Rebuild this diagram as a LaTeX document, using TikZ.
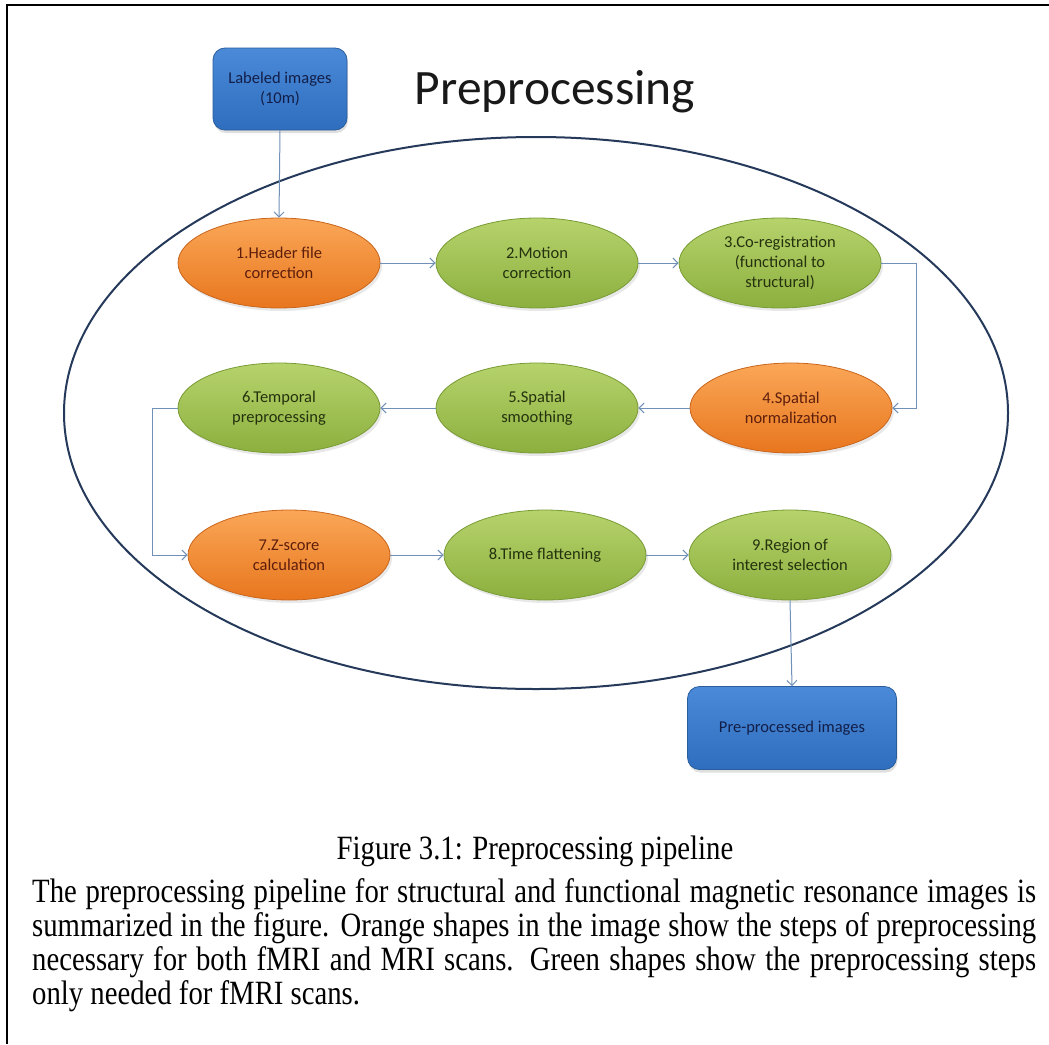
\documentclass[tikz,border=0pt]{standalone}
\usepackage{fontspec}
\setmainfont{Liberation Serif}
\newfontfamily\calfont{Carlito}
\newfontfamily\capfont[FakeStretch=0.845]{Liberation Serif}
\usetikzlibrary{arrows.meta,shapes.geometric,shadows}
\definecolor{orT}{HTML}{FAA757}
\definecolor{orB}{HTML}{E8761E}
\definecolor{orD}{HTML}{C9651C}
\definecolor{orTxt}{HTML}{5E1E0C}
\definecolor{grT}{HTML}{B6D36C}
\definecolor{grB}{HTML}{8CAF3E}
\definecolor{grD}{HTML}{789B35}
\definecolor{grTxt}{HTML}{24320E}
\definecolor{blT}{HTML}{4A8AD8}
\definecolor{blB}{HTML}{2F6DBE}
\definecolor{blD}{HTML}{2A5D9C}
\definecolor{blTxt}{HTML}{121E48}
\definecolor{conn}{HTML}{7090B8}
\definecolor{ring}{HTML}{25395A}
\tikzset{
  stepnode/.style={ellipse, minimum width=202pt, minimum height=90pt, inner sep=0pt,
    align=center, font=\calfont\fontsize{16.5}{20}\selectfont, line width=0.8pt,
    drop shadow={opacity=0.18, shadow xshift=2pt, shadow yshift=-3pt}},
  orangestep/.style={stepnode, top color=orT, bottom color=orB, draw=orD, text=orTxt},
  greenstep/.style={stepnode, top color=grT, bottom color=grB, draw=grD, text=grTxt},
  bluebox/.style={rectangle, rounded corners=12pt, top color=blT, bottom color=blB,
    draw=blD, line width=0.8pt, text=blTxt, align=center, inner sep=0pt,
    font=\calfont\fontsize{16.5}{20}\selectfont,
    drop shadow={opacity=0.25, shadow xshift=1pt, shadow yshift=-3pt}},
  link/.style={draw=conn, line width=1pt, -{Straight Barb[length=5pt,width=10pt]}},
  captext/.style={font=\capfont\fontsize{34}{34}\selectfont},
}
\begin{document}
\begin{tikzpicture}[x=1pt,y=-1pt]
\useasboundingbox (0,0) rectangle (1049,1044);
% frame
\draw[line width=1.8pt] (7,1044) -- (7,5) -- (1049,5);
% big ring
\draw[ring, line width=2pt] (536,413) ellipse [x radius=472pt, y radius=276pt];
% title
\node[font=\calfont\fontsize{49.5}{56}\selectfont, anchor=base, text=black!90] (title) at (555,104) {Preprocessing};
% boxes
\node[bluebox, minimum width=134pt, minimum height=82pt] (lab) at (280,89) {Labeled images\\(10m)};
\node[bluebox, minimum width=209pt, minimum height=83pt] (pre) at (792,728) {Pre-processed images};
% steps
\node[orangestep] (n1) at (279,263) {1.Header file\\correction};
\node[greenstep]  (n2) at (537,263) {2.Motion\\correction};
\node[greenstep]  (n3) at (780,263) {3.Co-registration\\(functional to\\structural)};
\node[orangestep] (n4) at (791,408) {4.Spatial\\normalization};
\node[greenstep]  (n5) at (537,408) {5.Spatial\\smoothing};
\node[greenstep]  (n6) at (279,408) {6.Temporal\\preprocessing};
\node[orangestep] (n7) at (289,555) {7.Z-score\\calculation};
\node[greenstep]  (n8) at (545,555) {8.Time flattening};
\node[greenstep]  (n9) at (790,555) {9.Region of\\interest selection};
% connectors
\draw[link] (lab.south) -- (n1.north);
\draw[link] (n1.east) -- (n2.west);
\draw[link] (n2.east) -- (n3.west);
\draw[link] (n3.east) -- ++(35,0) |- (n4.east);
\draw[link] (n4.west) -- (n5.east);
\draw[link] (n5.west) -- (n6.east);
\draw[link] (n6.west) -- ++(-25,0) |- (n7.west);
\draw[link] (n7.east) -- (n8.west);
\draw[link] (n8.east) -- (n9.west);
\draw[link] (n9.south) -- (pre.north);
% caption
\node[captext, anchor=base] (cap) at (535,859) {Figure 3.1: Preprocessing pipeline};
\node[captext, anchor=base west, text width=1004pt, inner sep=0pt, align=justify] (para) at (32,902)
{The preprocessing pipeline for structural and functional magnetic resonance images is\linebreak
summarized in the figure. Orange shapes in the image show the steps of preprocessing\linebreak
necessary for both fMRI and MRI scans. Green shapes show the preprocessing steps\linebreak
only needed for fMRI scans.};
\end{tikzpicture}
\end{document}
